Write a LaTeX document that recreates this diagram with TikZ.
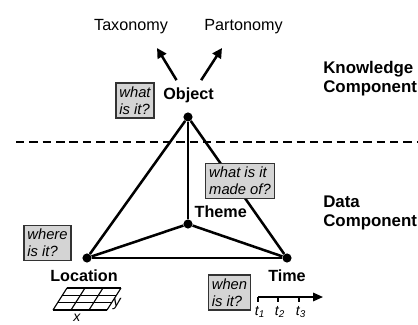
\documentclass[tikz,border=0pt]{standalone}
\usepackage{fontspec}
\setmainfont{Liberation Sans}
\usetikzlibrary{positioning, arrows.meta}

\begin{document}
\begin{tikzpicture}[x=0.025cm, y=0.025cm,
    dot/.style={circle, fill, inner sep=0pt, minimum size=6.5pt},
    lbl/.style={font=\fontsize{11.5}{13}\selectfont\bfseries, inner sep=1pt},
    comp/.style={font=\fontsize{12}{13}\selectfont\bfseries, align=left, anchor=west, inner sep=0pt},
    kind/.style={font=\fontsize{11.5}{13}\selectfont, inner sep=1pt},
    qbox/.style={draw=black!80, fill=black!17, line width=1.1pt, align=left,
      font=\fontsize{10.5}{12}\selectfont\itshape, inner sep=2.5pt},
    link/.style={line width=1.8pt},
    arr/.style={line width=1.8pt, -{Triangle[length=7pt, width=7pt]}}]
  \useasboundingbox (0,0) rectangle (418,324);
  % corners of the data triangle
  \node[dot] (obj) at (188,207) {};
  \node[dot] (thm) at (188,100) {};
  \node[dot] (loc) at (87,66) {};
  \node[dot] (tim) at (287,66) {};
  \draw[link] (obj) edge (thm)
    (obj) edge (loc)
    (obj) edge (tim)
    (thm) edge (loc)
    (thm) edge (tim)
    (loc) edge (tim);
  % separator between the two components
  \coordinate (sepL) at (16,182);
  \coordinate (sepR) at (418,182);
  \draw[line width=1.8pt, dash pattern=on 6pt off 3.5pt] (sepL) -- (sepR);
  % labels
  \node[lbl] (objlbl) at (188.5,229) {Object};
  \node[lbl, anchor=west] (thmlbl) at (193,112.5) {Theme};
  \node[lbl] (loclbl) at (84,48.5) {Location};
  \node[lbl] (timlbl) at (287,48.5) {Time};
  \node[kind] (tax) at (131,297.5) {Taxonomy};
  \node[kind] (part) at (243.5,297.5) {Partonomy};
  \node[comp] (know) at (323,245.5) {Knowledge\\Component};
  \node[comp] (data) at (323,111) {Data\\Component};
  % questions
  \node[qbox] (qwhat) at (135,223.5) {what\\is it?};
  \node[qbox] (qmade) at (240,143) {what is it\\made of?};
  \node[qbox] (qwhere) at (47.5,81) {where\\is it?};
  \node[qbox] (qwhen) at (229.5,31.5) {when\\is it?};
  % knowledge arrows
  \coordinate (taxtip) at (157,276);
  \coordinate (parttip) at (222,276);
  \draw[arr] ([xshift=-8.5pt, yshift=4pt]objlbl.north) -- (taxtip);
  \draw[arr] ([xshift=9pt, yshift=4pt]objlbl.north) -- (parttip);
  % location grid
  \foreach \i in {0,...,3} {
    \draw[line width=0.8pt] (53+4.667*\i, 14+7.333*\i) -- ++(54,0);
    \draw[line width=0.8pt] (53+18*\i, 14) -- ++(14,22);
  }
  \node[font=\fontsize{11}{12}\selectfont\itshape, inner sep=0pt] (gy) at (117,20) {y};
  \node[font=\fontsize{10}{11}\selectfont\itshape, inner sep=0pt, anchor=south] (gx) at (77,2) {x};
  % time axis
  \coordinate (t0) at (258,27);
  \coordinate (tend) at (323,27);
  \draw[line width=1.1pt, -{Triangle[length=7pt, width=6pt]}] (t0) -- (tend);
  \foreach \x/\n in {258/1, 278/2, 299/3} {
    \draw[line width=1.1pt] (\x,27) -- (\x,22);
    \node[font=\fontsize{10}{11}\selectfont\itshape, inner sep=0pt] (tk\n) at (\x+2,12) {t\textsubscript{\n}};
  }
\end{tikzpicture}
\end{document}
